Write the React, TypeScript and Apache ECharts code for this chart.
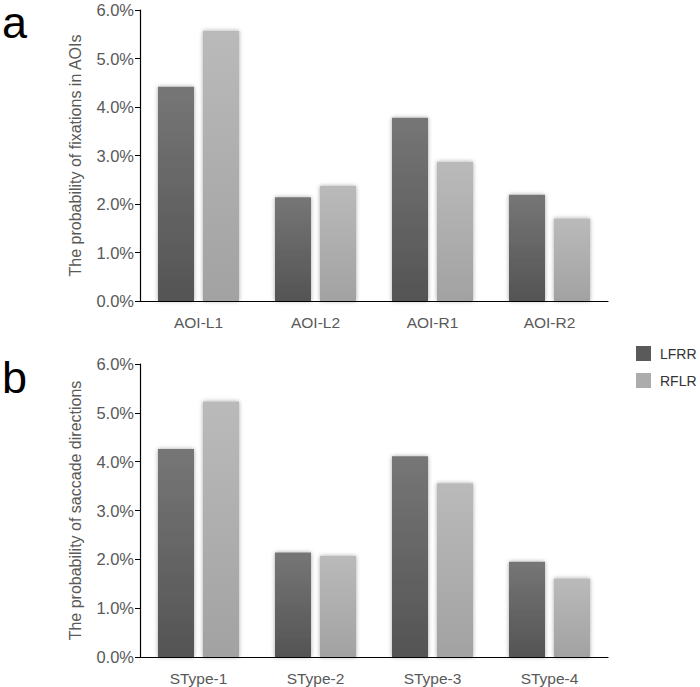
import React, { useEffect, useRef } from "react";
import * as echarts from "echarts";

const categoriesA = ["AOI-L1", "AOI-L2", "AOI-R1", "AOI-R2"];
const categoriesB = ["SType-1", "SType-2", "SType-3", "SType-4"];
const lfrrA = [4.42, 2.14, 3.78, 2.19];
const rflrA = [5.57, 2.37, 2.87, 1.7];
const lfrrB = [4.26, 2.14, 4.11, 1.95];
const rflrB = [5.23, 2.07, 3.56, 1.61];
const yTicks = [0, 1, 2, 3, 4, 5, 6];
const yNameA = "The probability of fixations in AOIs";
const yNameB = "The probability of saccade directions";
const seriesNames = ["LFRR", "RFLR"];

const FONT = "Liberation Sans, Arial, sans-serif";

export default function App() {
  const ref = useRef<HTMLDivElement>(null);
  useEffect(() => {
    if (!ref.current) return;
    const chart = echarts.init(ref.current, undefined, { renderer: "svg" });
    const darkGrad = new echarts.graphic.LinearGradient(0, 0, 0, 1, [
      { offset: 0, color: "#767676" },
      { offset: 1, color: "#545454" },
    ]);
    const lightGrad = new echarts.graphic.LinearGradient(0, 0, 0, 1, [
      { offset: 0, color: "#bababa" },
      { offset: 1, color: "#a2a2a2" },
    ]);
    const yAxisBase = (gridIndex: number, name: string) => ({
      type: "value",
      gridIndex,
      min: yTicks[0],
      max: yTicks[yTicks.length - 1],
      interval: 1,
      name,
      nameLocation: "middle",
      nameGap: 57,
      nameTextStyle: { fontFamily: FONT, fontSize: 16, color: "#595959" },
      axisLine: { show: true, lineStyle: { color: "#000", width: 1.2 } },
      axisTick: { show: true, length: 5, lineStyle: { color: "#000" } },
      axisLabel: {
        fontFamily: FONT,
        fontSize: 16.5,
        color: "#595959",
        margin: 6,
        formatter: (v: number) => v.toFixed(1) + "%",
      },
      splitLine: { show: false },
    });
    const xAxisBase = (gridIndex: number, data: string[]) => ({
      type: "category",
      gridIndex,
      data,
      axisLine: { show: true, lineStyle: { color: "#000", width: 1.2 } },
      axisTick: { show: false },
      axisLabel: { fontFamily: FONT, fontSize: 15.5, color: "#595959", margin: 13 },
    });
    const barBase = {
      type: "bar",
      barWidth: 36,
      barGap: "25%",
    };
    const shadow = { shadowBlur: 4, shadowColor: "rgba(0,0,0,0.35)" };
    chart.setOption({
      animation: false,
      backgroundColor: "#fff",
      grid: [
        { left: 140, top: 10, width: 468, height: 291 },
        { left: 140, top: 364, width: 468, height: 293 },
      ],
      xAxis: [xAxisBase(0, categoriesA), xAxisBase(1, categoriesB)],
      yAxis: [yAxisBase(0, yNameA), yAxisBase(1, yNameB)],
      legend: {
        orient: "vertical",
        left: 631,
        top: 341,
        itemWidth: 15,
        itemHeight: 15,
        itemGap: 12,
        icon: "rect",
        textStyle: { fontFamily: FONT, fontSize: 14, color: "#333", padding: [0, 0, 0, 4] },
        data: [
          { name: seriesNames[0], itemStyle: { color: "#5a5a5a" } },
          { name: seriesNames[1], itemStyle: { color: "#acacac" } },
        ],
      },
      graphic: [
        { type: "text", left: 2, top: 0, style: { text: "a", fontFamily: FONT, fontSize: 45, lineHeight: 22, fill: "#000" } },
        { type: "text", left: 2, top: 355, style: { text: "b", fontFamily: FONT, fontSize: 45, lineHeight: 22, fill: "#000" } },
      ],
      series: [
        { ...barBase, name: seriesNames[0], xAxisIndex: 0, yAxisIndex: 0, data: lfrrA, itemStyle: { color: darkGrad, ...shadow } },
        { ...barBase, name: seriesNames[1], xAxisIndex: 0, yAxisIndex: 0, data: rflrA, itemStyle: { color: lightGrad, ...shadow } },
        { ...barBase, name: seriesNames[0], xAxisIndex: 1, yAxisIndex: 1, data: lfrrB, itemStyle: { color: darkGrad, ...shadow } },
        { ...barBase, name: seriesNames[1], xAxisIndex: 1, yAxisIndex: 1, data: rflrB, itemStyle: { color: lightGrad, ...shadow } },
      ],
    });
    return () => chart.dispose();
  }, []);
  return (
    <div
      ref={ref}
      style={{ position: "fixed", left: 0, top: 0, width: 700, height: 687, background: "#fff" }}
    />
  );
}
